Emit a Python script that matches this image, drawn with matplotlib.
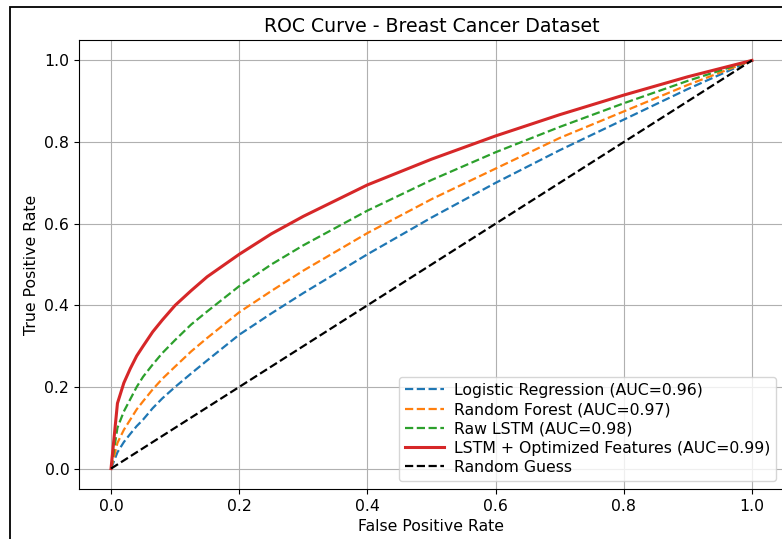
import matplotlib
matplotlib.use("Agg")
import matplotlib.pyplot as plt
from matplotlib.patches import Rectangle

# ROC points (FPR -> TPR)
fpr = [0.0, 0.01, 0.02, 0.03, 0.04, 0.05, 0.065, 0.08, 0.1, 0.125, 0.15, 0.2, 0.25, 0.3,
       0.4, 0.5, 0.6, 0.7, 0.8, 0.9, 1.0]

tpr_lr = [0.0, 0.04, 0.065, 0.085, 0.104, 0.12, 0.148, 0.172, 0.20, 0.233, 0.265, 0.328, 0.38, 0.43,
          0.525, 0.615, 0.70, 0.78, 0.855, 0.93, 1.0]
tpr_rf = [0.0, 0.063, 0.095, 0.12, 0.145, 0.165, 0.194, 0.22, 0.25, 0.287, 0.32, 0.383, 0.435, 0.485,
          0.577, 0.66, 0.735, 0.81, 0.875, 0.94, 1.0]
tpr_raw_lstm = [0.0, 0.10, 0.14, 0.17, 0.20, 0.225, 0.255, 0.283, 0.315, 0.353, 0.385, 0.447, 0.50, 0.547,
                0.632, 0.707, 0.775, 0.837, 0.895, 0.95, 1.0]
tpr_lstm_opt = [0.0, 0.16, 0.21, 0.245, 0.276, 0.30, 0.335, 0.364, 0.40, 0.436, 0.47, 0.525, 0.575, 0.618,
                0.695, 0.758, 0.815, 0.867, 0.915, 0.96, 1.0]

guess = [0.0, 1.0]

labels = ["Logistic Regression (AUC=0.96)",
          "Random Forest (AUC=0.97)",
          "Raw LSTM (AUC=0.98)",
          "LSTM + Optimized Features (AUC=0.99)",
          "Random Guess"]

plt.rcParams["font.size"] = 11.3

fig = plt.figure(figsize=(7.82, 5.39), dpi=100)
W, H = 782, 539
ax = fig.add_axes([79 / W, (H - 489) / H, (784 - 79) / W, (489 - 40) / H])

ax.plot(fpr, tpr_lr, "--", color="tab:blue", lw=1.6, label=labels[0])
ax.plot(fpr, tpr_rf, "--", color="tab:orange", lw=1.6, label=labels[1])
ax.plot(fpr, tpr_raw_lstm, "--", color="tab:green", lw=1.6, label=labels[2])
ax.plot(fpr, tpr_lstm_opt, "-", color="tab:red", lw=2.2, label=labels[3])
ax.plot(guess, guess, "k--", lw=1.6, label=labels[4])

ax.set_xlabel("False Positive Rate", fontsize=11.3)
ax.set_ylabel("True Positive Rate", fontsize=11.3)
ax.set_title("ROC Curve - Breast Cancer Dataset", fontsize=13.6)
ax.tick_params(labelsize=11.3)
ax.grid(True)
ax.legend(loc="lower right", fontsize=11.3, labelspacing=0.27,
          handlelength=2.5, handletextpad=0.6)

# thin frame around the screenshot
fig.add_artist(Rectangle((10 / W, -0.05), 1.1, (H - 7) / H + 0.05,
                         transform=fig.transFigure, fill=False,
                         edgecolor="black", lw=1.3))

fig.savefig("out.png", dpi=100)
